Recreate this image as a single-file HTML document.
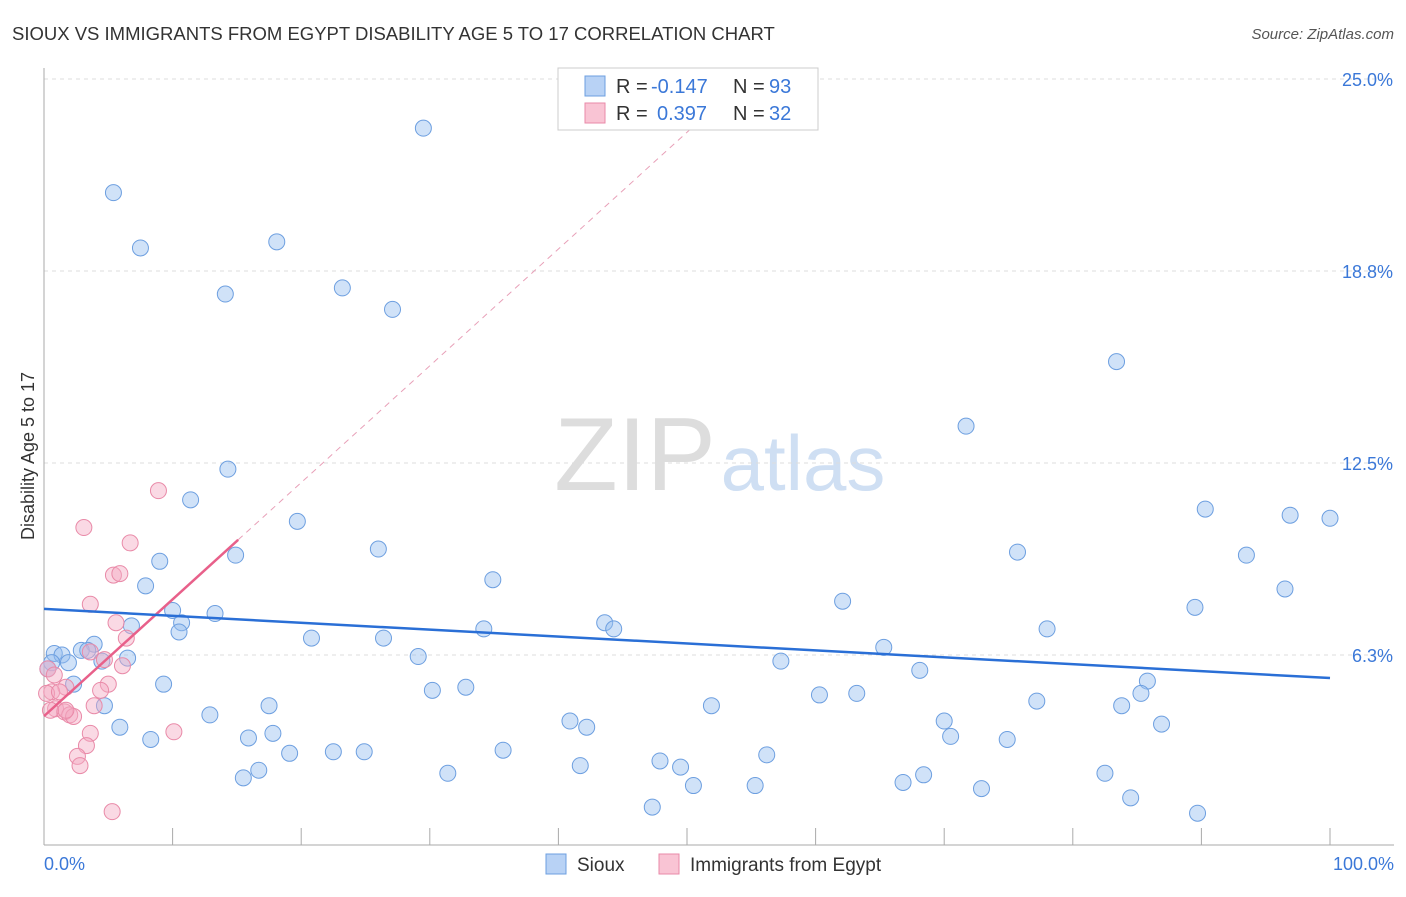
<!DOCTYPE html>
<html><head><meta charset="utf-8"><style>
body{margin:0;background:#fff;font-family:"Liberation Sans",sans-serif;}
svg text{font-family:"Liberation Sans",sans-serif;}
</style></head><body>
<svg id="chart" width="1406" height="892" xmlns="http://www.w3.org/2000/svg">
<text x="12" y="40" font-size="18.5" fill="#333">SIOUX VS IMMIGRANTS FROM EGYPT DISABILITY AGE 5 TO 17 CORRELATION CHART</text>
<text x="1394" y="39" font-size="15" fill="#555" font-style="italic" text-anchor="end">Source: ZipAtlas.com</text>
<g>
<text x="635" y="490" font-size="104" fill="#ddd" font-family="Liberation Serif" text-anchor="middle">ZIP</text>
<text x="803" y="490" font-size="78" fill="#cfdff3" text-anchor="middle">atlas</text>
</g>
<g id="grid"></g><g id="axes"></g><g id="marks"></g>
<text transform="translate(34,456) rotate(-90)" font-size="18" fill="#333" text-anchor="middle">Disability Age 5 to 17</text>
<text x="44" y="870" font-size="18" fill="#3b78d8">0.0%</text>
<text x="1394" y="870" font-size="18" fill="#3b78d8" text-anchor="end">100.0%</text>
<g>
<rect x="558" y="68" width="260" height="62" fill="#fff" stroke="#ccc"/>
<rect x="585" y="76" width="20" height="20" fill="#b8d2f5" stroke="#6d9fe0"/>
<rect x="585" y="103" width="20" height="20" fill="#f9c4d4" stroke="#e98aa8"/>
<text x="616" y="93" font-size="20" fill="#333">R =</text>
<text x="651" y="93" font-size="20" fill="#3b78d8">-0.147</text>
<text x="733" y="93" font-size="20" fill="#333">N =</text>
<text x="769" y="93" font-size="20" fill="#3b78d8">93</text>
<text x="616" y="120" font-size="20" fill="#333">R =</text>
<text x="657" y="120" font-size="20" fill="#3b78d8">0.397</text>
<text x="733" y="120" font-size="20" fill="#333">N =</text>
<text x="769" y="120" font-size="20" fill="#3b78d8">32</text>
</g>
<g>
<rect x="546" y="854" width="20" height="20" fill="#b8d2f5" stroke="#6d9fe0"/>
<text x="577" y="871" font-size="19" fill="#333">Sioux</text>
<rect x="659" y="854" width="20" height="20" fill="#f9c4d4" stroke="#e98aa8"/>
<text x="690" y="871" font-size="19" fill="#333">Immigrants from Egypt</text>
</g>
</svg>
<script>
const yTicks=[25.0,18.8,12.5,6.3];
const yTickValues=[25,18.75,12.5,6.25];
const xTickValues=[0,10,20,30,40,50,60,70,80,90,100];
const siouxX=[5.4,7.5,14.1,18.1,23.2,27.1,29.5,83.4,71.7,14.3,11.4,19.7,26.0,14.9,9.0,75.7,90.3,96.9,100,93.5,34.9,7.9,96.5,89.5,62.1,10.0,13.3,10.7,6.8,10.5,43.6,44.3,34.2,78.0,20.8,26.4,3.9,2.9,3.4,0.8,1.4,1.9,4.5,6.5,29.1,65.3,57.3,68.1,0.6,0.3,2.3,9.3,32.8,30.2,85.8,85.3,60.3,63.2,77.2,4.7,17.5,51.9,83.8,12.9,70.0,40.9,42.2,86.9,5.9,17.8,8.3,15.9,70.5,74.9,19.1,22.5,24.9,35.7,56.2,47.9,41.7,49.5,16.7,15.5,31.4,82.5,68.4,66.8,50.5,55.3,72.9,84.5,47.3,89.7];
const siouxY=[21.3,19.5,18.0,19.7,18.2,17.5,23.4,15.8,13.7,12.3,11.3,10.6,9.7,9.5,9.3,9.6,11.0,10.8,10.7,9.5,8.7,8.5,8.4,7.8,8.0,7.7,7.6,7.3,7.2,7.0,7.3,7.1,7.1,7.1,6.8,6.8,6.6,6.4,6.4,6.3,6.25,6.0,6.05,6.15,6.2,6.5,6.05,5.75,6.0,5.8,5.3,5.3,5.2,5.1,5.4,5.0,4.95,5.0,4.75,4.6,4.6,4.6,4.6,4.3,4.1,4.1,3.9,4.0,3.9,3.7,3.5,3.55,3.6,3.5,3.05,3.1,3.1,3.15,3.0,2.8,2.65,2.6,2.5,2.25,2.4,2.4,2.35,2.1,2.0,2.0,1.9,1.6,1.3,1.1];
const egyptX=[3.1,8.9,6.7,5.4,5.9,3.6,5.6,6.4,4.7,6.1,3.6,1.7,0.6,0.2,1.2,5.0,4.4,3.9,0.9,1.6,2.0,2.3,1.7,10.1,3.6,3.3,2.6,2.8,5.3,0.3,0.8,0.5];
const egyptY=[10.4,11.6,9.9,8.85,8.9,7.9,7.3,6.8,6.1,5.9,6.35,5.2,5.05,5.0,5.05,5.3,5.1,4.6,4.5,4.4,4.3,4.25,4.45,3.75,3.7,3.3,2.95,2.65,1.15,5.8,5.6,4.45];
const siouxTrend=[7.75,5.5];
const egyptTrend=[4.26,10.0];
const egyptTrendEnd=15.1, egyptDashEnd=51;

const X=v=>44+v*12.86, Y=v=>847-v*30.72;
const NS="http://www.w3.org/2000/svg";
function mk(tag,attrs,parent){const e=document.createElementNS(NS,tag);for(const k in attrs)e.setAttribute(k,attrs[k]);parent.appendChild(e);return e;}
const grid=document.getElementById('grid'),axes=document.getElementById('axes'),marks=document.getElementById('marks');
yTickValues.forEach((v,i)=>{
 const l=mk('line',{x1:44,x2:1394,y1:Y(v),y2:Y(v),stroke:'#ddd','stroke-dasharray':'4,4'},grid);
 
 
 const t=mk('text',{x:1393,y:Y(v)+7,'font-size':18,fill:'#3b78d8','text-anchor':'end'},axes);
 t.textContent=yTicks[i].toFixed(1)+'%';
 
 
});
const yl=mk('line',{x1:44,x2:44,y1:68,y2:845,stroke:'#aaa'},axes);


const xl=mk('line',{x1:44,x2:1394,y1:845,y2:845,stroke:'#aaa'},axes);


xTickValues.forEach(v=>{
 const t=mk('line',{x1:X(v),x2:X(v),y1:828,y2:845,stroke:'#aaa'},axes);
 
 
});
siouxX.forEach((x,i)=>{
 const c=mk('circle',{cx:X(x),cy:Y(siouxY[i]),r:8,fill:'rgba(150,190,240,0.45)',stroke:'#6d9fe0','stroke-width':1},marks);
 
 
});
egyptX.forEach((x,i)=>{
 const c=mk('circle',{cx:X(x),cy:Y(egyptY[i]),r:8,fill:'rgba(245,170,195,0.45)',stroke:'#e98aa8','stroke-width':1},marks);
 
 
});
const slope=(egyptTrend[1]-egyptTrend[0])/egyptTrendEnd;
const d=mk('line',{x1:X(egyptTrendEnd),y1:Y(egyptTrend[1]),x2:X(egyptDashEnd),y2:Y(egyptTrend[0]+slope*egyptDashEnd),stroke:'#e8a0b8','stroke-width':1,'stroke-dasharray':'6,5'},marks);


const pl=mk('line',{x1:X(0),y1:Y(egyptTrend[0]),x2:X(egyptTrendEnd),y2:Y(egyptTrend[1]),stroke:'#e8608a','stroke-width':2.5},marks);


const bl=mk('line',{x1:X(0),y1:Y(siouxTrend[0]),x2:X(100),y2:Y(siouxTrend[1]),stroke:'#2a6fd6','stroke-width':2.5},marks);


</script>
</body></html>
